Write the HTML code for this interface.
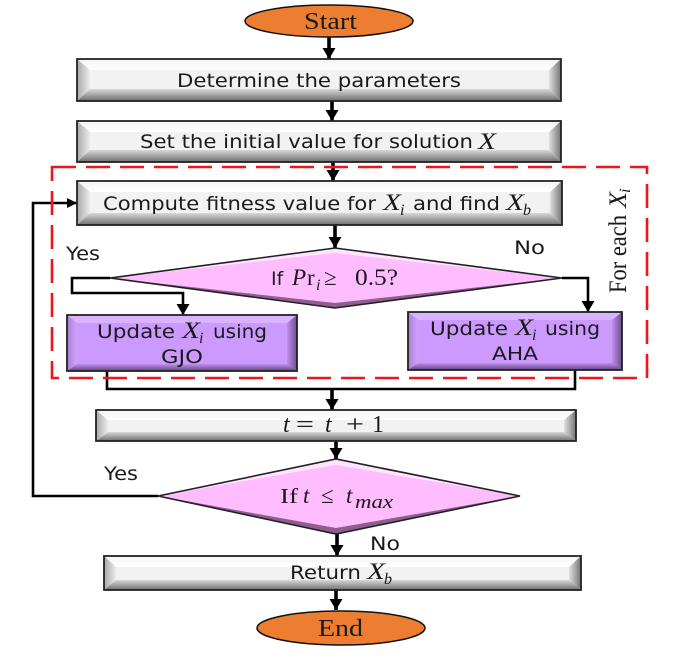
<!DOCTYPE html>
<html><head><meta charset="utf-8"><style>
html,body{margin:0;padding:0;background:#fff;width:689px;height:659px;overflow:hidden}
svg{display:block;filter:blur(0.35px)}
.s{font-family:"DejaVu Sans","Liberation Sans",sans-serif;font-size:19px;fill:#1a1a1a}
.x{font-family:"Liberation Serif",serif;font-style:italic;font-size:23px;fill:#1a1a1a}
.u{font-family:"Liberation Serif",serif;font-style:italic;font-size:16px;fill:#1a1a1a}
.q{font-family:"Liberation Serif",serif;font-size:23px;fill:#1a1a1a}
.w{fill:none;stroke:#000;stroke-width:3.6}
.n{fill:none;stroke:#000;stroke-width:2.6}
</style></head><body>
<svg width="689" height="659" viewBox="0 0 689 659" xmlns="http://www.w3.org/2000/svg">
<defs>
<marker id="a" markerUnits="userSpaceOnUse" markerWidth="14" markerHeight="14" refX="11" refY="6.5" orient="auto"><path d="M0 0L11 6.5L0 13Z" fill="#000"/></marker>
<marker id="b" markerUnits="userSpaceOnUse" markerWidth="12" markerHeight="12" refX="10" refY="5" orient="auto"><path d="M0 0L10 5L0 10Z" fill="#000"/></marker>
<linearGradient id="gT" x1="0" y1="0" x2="0" y2="1"><stop offset="0" stop-color="#f4f4f4"/><stop offset="1" stop-color="#ffffff"/></linearGradient>
<linearGradient id="gB" x1="0" y1="0" x2="0" y2="1"><stop offset="0" stop-color="#d8d8d8"/><stop offset="1" stop-color="#6e6e6e"/></linearGradient>
<linearGradient id="gL" x1="0" y1="0" x2="1" y2="0"><stop offset="0" stop-color="#a8a8a8"/><stop offset="1" stop-color="#ececec"/></linearGradient>
<linearGradient id="gR" x1="0" y1="0" x2="1" y2="0"><stop offset="0" stop-color="#e0e0e0"/><stop offset="1" stop-color="#747474"/></linearGradient>
<linearGradient id="pB" x1="0" y1="0" x2="0" y2="1"><stop offset="0" stop-color="#c08fef"/><stop offset="1" stop-color="#5f4681"/></linearGradient>
<linearGradient id="pR" x1="0" y1="0" x2="1" y2="0"><stop offset="0" stop-color="#c08fef"/><stop offset="1" stop-color="#6a4e90"/></linearGradient>
<linearGradient id="pL" x1="0" y1="0" x2="1" y2="0"><stop offset="0" stop-color="#a87fd4"/><stop offset="1" stop-color="#cfa2fb"/></linearGradient>
</defs>

<!-- connectors -->
<g class="w">
<path d="M329 37V59" marker-end="url(#a)"/>
<path d="M332 101V121" marker-end="url(#a)"/>
<path d="M333 162V181" marker-end="url(#a)"/>
<path d="M335 225V248" marker-end="url(#a)"/>
<path d="M332 389V410" marker-end="url(#a)"/>
<path d="M336 441V459" marker-end="url(#a)"/>
<path d="M337 534V556" marker-end="url(#a)"/>
<path d="M336 590V610" marker-end="url(#a)"/>
</g>
<g class="n">
<path d="M110 278H72V293H183V315" marker-end="url(#a)"/>
<path d="M562 278H588V312" marker-end="url(#a)"/>
<path d="M107 371V389H575V370"/>
<path d="M158 496H33V203H77" marker-end="url(#b)"/>
</g>

<!-- dashed frame -->
<rect x="52" y="167" width="595" height="211" fill="none" stroke="#f0141e" stroke-width="2.6" stroke-dasharray="24 10"/>

<!-- ellipses -->
<ellipse cx="329" cy="21" rx="84" ry="16" fill="#ed7d31" stroke="#111" stroke-width="1.5"/>
<ellipse cx="341" cy="628" rx="84" ry="17" fill="#ed7d31" stroke="#111" stroke-width="1.5"/>

<!-- grey bevel boxes -->
<g stroke="none">
<g>
<rect x="77" y="59" width="484" height="42" fill="#f2f2f2"/>
<path d="M77 59H561L549 70H90Z" fill="url(#gT)"/><path d="M77 59L90 70V89L77 101Z" fill="url(#gL)"/>
<path d="M561 59L549 70V89L561 101Z" fill="url(#gR)"/><path d="M77 101L90 89H549L561 101Z" fill="url(#gB)"/>
</g>
<g>
<rect x="77" y="121" width="484" height="41" fill="#f2f2f2"/>
<path d="M77 121H561L549 132H90Z" fill="url(#gT)"/><path d="M77 121L90 132V150L77 162Z" fill="url(#gL)"/>
<path d="M561 121L549 132V150L561 162Z" fill="url(#gR)"/><path d="M77 162L90 150H549L561 162Z" fill="url(#gB)"/>
</g>
<g>
<rect x="77" y="181" width="485" height="44" fill="#f2f2f2"/>
<path d="M77 181H562L550 192H90Z" fill="url(#gT)"/><path d="M77 181L90 192V213L77 225Z" fill="url(#gL)"/>
<path d="M562 181L550 192V213L562 225Z" fill="url(#gR)"/><path d="M77 225L90 213H550L562 225Z" fill="url(#gB)"/>
</g>
<g>
<rect x="96" y="410" width="480" height="31" fill="#f2f2f2"/>
<path d="M96 410H576L564 420H108Z" fill="url(#gT)"/><path d="M96 410L108 420V432L96 441Z" fill="url(#gL)"/>
<path d="M576 410L564 420V432L576 441Z" fill="url(#gR)"/><path d="M96 441L108 432H564L576 441Z" fill="url(#gB)"/>
</g>
<g>
<rect x="104" y="556" width="477" height="34" fill="#f2f2f2"/>
<path d="M104 556H581L569 567H116Z" fill="url(#gT)"/><path d="M104 556L116 567V580L104 590Z" fill="url(#gL)"/>
<path d="M581 556L569 567V580L581 590Z" fill="url(#gR)"/><path d="M104 590L116 580H569L581 590Z" fill="url(#gB)"/>
</g>
<!-- purple boxes -->
<g>
<rect x="67" y="315" width="230" height="56" fill="#cc99ff"/>
<path d="M67 315H297L287 323H77Z" fill="#d9b3ff"/><path d="M67 315L77 323V364L67 371Z" fill="url(#pL)"/>
<path d="M297 315L287 323V364L297 371Z" fill="url(#pR)"/><path d="M67 371L77 364H287L297 371Z" fill="url(#pB)"/>
</g>
<g>
<rect x="408" y="312" width="214" height="58" fill="#cc99ff"/>
<path d="M408 312H622L612 320H418Z" fill="#d9b3ff"/><path d="M408 312L418 320V363L408 370Z" fill="url(#pL)"/>
<path d="M622 312L612 320V363L622 370Z" fill="url(#pR)"/><path d="M408 370L418 363H612L622 370Z" fill="url(#pB)"/>
</g>
</g>
<g fill="none" stroke="#222" stroke-width="1.8">
<rect x="77" y="59" width="484" height="42"/>
<rect x="77" y="121" width="484" height="41"/>
<rect x="77" y="181" width="485" height="44"/>
<rect x="96" y="410" width="480" height="31"/>
<rect x="104" y="556" width="477" height="34"/>
<rect x="67" y="315" width="230" height="56"/>
<rect x="408" y="312" width="214" height="58"/>
</g>

<!-- diamonds -->
<g>
<path d="M110 278L335 248L562 278L335 308Z" fill="#ffbdff"/>
<path d="M110 278L335 248L562 278L335 253Z" fill="#ffe4ff"/>
<path d="M110 278L335 308L562 278L335 303Z" fill="#8e5f8e"/>
<path d="M110 278L335 248L562 278L335 308Z" fill="none" stroke="#222" stroke-width="1.6"/>
<path d="M158 496L336 459L520 496L336 534Z" fill="#ffbdff"/>
<path d="M158 496L336 459L520 496L336 465Z" fill="#ffe4ff"/>
<path d="M158 496L336 534L520 496L336 528Z" fill="#8e5f8e"/>
<path d="M158 496L336 459L520 496L336 534Z" fill="none" stroke="#222" stroke-width="1.6"/>
</g>

<!-- text -->
<text x="304" y="29" class="q" style="font-size:24px" textLength="53" lengthAdjust="spacingAndGlyphs">Start</text>
<text x="318" y="636" class="q" style="font-size:24px" textLength="45" lengthAdjust="spacingAndGlyphs">End</text>

<text x="177" y="87" class="s" textLength="284" lengthAdjust="spacingAndGlyphs">Determine the parameters</text>
<text x="140" y="148" class="s" textLength="333" lengthAdjust="spacingAndGlyphs">Set the initial value for solution</text>
<text x="478" y="149" class="x" textLength="18" lengthAdjust="spacingAndGlyphs">X</text>

<text x="103" y="210" class="s" textLength="273" lengthAdjust="spacingAndGlyphs">Compute fitness value for</text>
<text x="383" y="210" class="x" textLength="18" lengthAdjust="spacingAndGlyphs">X</text><text x="400" y="215" class="u">i</text>
<text x="413" y="210" class="s" textLength="87" lengthAdjust="spacingAndGlyphs">and find</text>
<text x="506" y="210" class="x" textLength="18" lengthAdjust="spacingAndGlyphs">X</text><text x="523" y="215" class="u">b</text>

<text x="271" y="285" class="s">If</text>
<text x="292" y="285" class="x">P</text>
<text x="307" y="285" class="q">r</text>
<text x="316" y="290" class="u">i</text>
<text x="324" y="285" class="q">≥</text>
<text x="355" y="285" class="q" textLength="43" lengthAdjust="spacingAndGlyphs">0.5?</text>

<text x="97" y="338" class="s" textLength="78" lengthAdjust="spacingAndGlyphs">Update</text>
<text x="182" y="338" class="x" textLength="18" lengthAdjust="spacingAndGlyphs">X</text><text x="199" y="343" class="u">i</text>
<text x="213" y="338" class="s" textLength="54" lengthAdjust="spacingAndGlyphs">using</text>
<text x="161" y="363" class="s" textLength="42" lengthAdjust="spacingAndGlyphs">GJO</text>

<text x="430" y="335" class="s" textLength="78" lengthAdjust="spacingAndGlyphs">Update</text>
<text x="515" y="335" class="x" textLength="18" lengthAdjust="spacingAndGlyphs">X</text><text x="532" y="340" class="u">i</text>
<text x="545" y="335" class="s" textLength="55" lengthAdjust="spacingAndGlyphs">using</text>
<text x="492" y="360" class="s" textLength="46" lengthAdjust="spacingAndGlyphs">AHA</text>

<text x="283" y="432" class="x" style="font-size:24px">t</text>
<text x="296" y="432" class="q" style="font-size:24px" textLength="18" lengthAdjust="spacingAndGlyphs">=</text>
<text x="325" y="432" class="x" style="font-size:24px">t</text>
<text x="346" y="432" class="q" style="font-size:24px" textLength="18" lengthAdjust="spacingAndGlyphs">+</text>
<text x="372" y="432" class="q" style="font-size:24px">1</text>

<text x="280" y="503" class="q" style="font-size:21px" textLength="18" lengthAdjust="spacingAndGlyphs">If</text>
<text x="303" y="503" class="x">t</text>
<text x="321" y="503" class="q">≤</text>
<text x="346" y="503" class="x">t</text>
<text x="355" y="508" class="u" textLength="38" lengthAdjust="spacingAndGlyphs" style="font-size:19px">max</text>

<text x="290" y="579" class="s" textLength="71" lengthAdjust="spacingAndGlyphs">Return</text>
<text x="367" y="579" class="x" textLength="18" lengthAdjust="spacingAndGlyphs">X</text><text x="384" y="584" class="u">b</text>

<text x="66" y="260" class="s" textLength="34" lengthAdjust="spacingAndGlyphs">Yes</text>
<text x="514" y="254" class="s" textLength="31" lengthAdjust="spacingAndGlyphs">No</text>
<text x="104" y="480" class="s" textLength="34" lengthAdjust="spacingAndGlyphs">Yes</text>
<text x="370" y="550" class="s" textLength="30" lengthAdjust="spacingAndGlyphs">No</text>

<text transform="translate(626,293) rotate(-90)" class="q" style="font-size:25px" textLength="78" lengthAdjust="spacingAndGlyphs">For each</text>
<text transform="translate(626,208) rotate(-90)" class="x" textLength="16" lengthAdjust="spacingAndGlyphs" style="font-size:25px">X</text>
<text transform="translate(630,193) rotate(-90)" class="u">i</text>
</svg>
</body></html>
